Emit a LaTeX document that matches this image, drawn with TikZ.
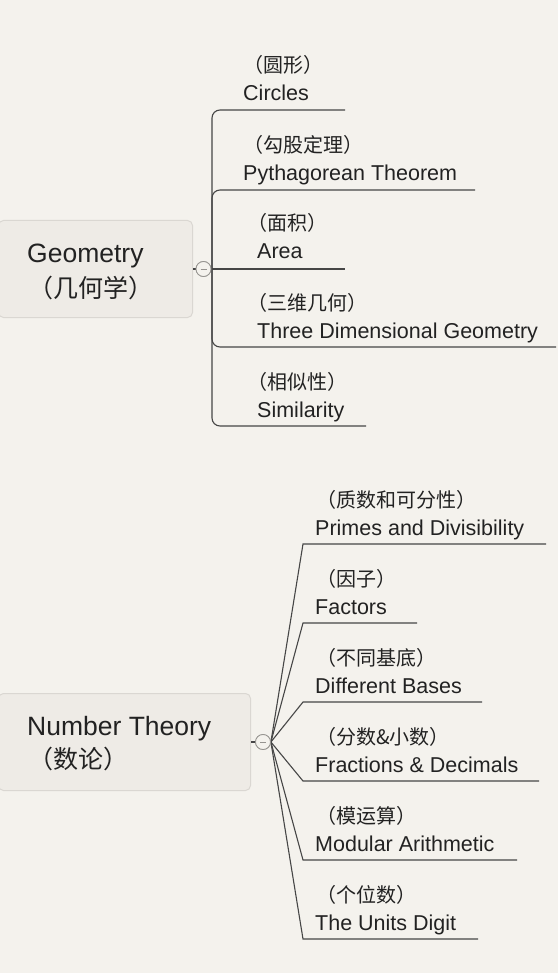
\documentclass[tikz,border=0pt]{standalone}
\usepackage{fontspec}
\setmainfont{Liberation Sans}
\newfontfamily\cjk{Noto Sans CJK SC}
\definecolor{bg}{RGB}{244,242,237}
\definecolor{boxfill}{RGB}{238,235,230}
\definecolor{boxline}{RGB}{218,215,210}
\definecolor{txt}{RGB}{34,34,34}
\definecolor{linec}{RGB}{70,70,70}
\definecolor{circc}{RGB}{150,148,144}
\begin{document}
\begin{tikzpicture}[x=1pt,y=-1pt,
  leafen/.style={anchor=base west, inner sep=0pt, text=txt, font=\fontsize{21.5}{24}\selectfont},
  leafcn/.style={anchor=base west, inner sep=0pt, text=txt, font=\cjk\fontsize{20}{24}\selectfont},
  topicen/.style={anchor=base west, inner sep=0pt, text=txt, font=\fontsize{26.5}{30}\selectfont},
  topiccn/.style={anchor=base west, inner sep=0pt, text=txt, font=\cjk\fontsize{25}{30}\selectfont},
  topicbox/.style={draw=boxline, fill=boxfill, line width=1pt, rounded corners=5pt, anchor=north west, inner sep=0pt},
  collapse/.style={circle, draw=circc, fill=bg, line width=0.8pt, minimum size=15pt, inner sep=0pt},
  conn/.style={draw=linec, line width=1.1pt},
  tick/.style={draw=circc, line width=0.6pt}]
\fill[bg] (0,0) rectangle (558,973);
\useasboundingbox (0,0) rectangle (558,973);

% ---------------- Geometry ----------------
\node[topicbox, minimum width=194pt, minimum height=97pt] (geo) at (-2,220) {};
\node[topicen] (geoen) at (27,262) {Geometry};
\node[topiccn] (geocn) at (28,297) {（几何学）};
\node[collapse] (gc) at (203.5,269) {};
\coordinate (gsp) at (212,269);

\coordinate (g1e) at (345,110);
\coordinate (g2e) at (475,190);
\coordinate (g3e) at (345,269);
\coordinate (g4e) at (556,347);
\coordinate (g5e) at (366,426);

\draw[conn, rounded corners=8pt] (gsp) |- (g1e);
\draw[conn, rounded corners=8pt] (gsp) |- (g2e);
\draw[conn] (gc.east) -- (g3e);
\draw[conn, rounded corners=8pt] (gsp) |- (g4e);
\draw[conn, rounded corners=8pt] (gsp) |- (g5e);
\draw[conn] (geo.east) -- (gc.west);
\node[collapse] at (gc) {};
\draw[tick] ([xshift=-3pt]gc.center) -- ([xshift=3pt]gc.center);

\node[leafcn] (g1c) at (243,73) {（圆形）};
\node[leafen] (g1t) at (243,101) {Circles};
\node[leafcn] (g2c) at (243,153) {（勾股定理）};
\node[leafen] (g2t) at (243,181) {Pythagorean Theorem};
\node[leafcn] (g3c) at (247,231) {（面积）};
\node[leafen] (g3t) at (257,259) {Area};
\node[leafcn] (g4c) at (247,310) {（三维几何）};
\node[leafen] (g4t) at (257,338) {Three Dimensional Geometry};
\node[leafcn] (g5c) at (247,389) {（相似性）};
\node[leafen] (g5t) at (257,417) {Similarity};

% ---------------- Number Theory ----------------
\node[topicbox, minimum width=252pt, minimum height=97pt] (nt) at (-2,693) {};
\node[topicen] (nten) at (27,735) {Number Theory};
\node[topiccn] (ntcn) at (28,768) {（数论）};
\node[collapse] (nc) at (263,742) {};

\coordinate (n1s) at (303,544); \coordinate (n1e) at (546,544);
\coordinate (n2s) at (303,623); \coordinate (n2e) at (417,623);
\coordinate (n3s) at (303,702); \coordinate (n3e) at (482,702);
\coordinate (n4s) at (303,781); \coordinate (n4e) at (539,781);
\coordinate (n5s) at (303,860); \coordinate (n5e) at (517,860);
\coordinate (n6s) at (303,939); \coordinate (n6e) at (478,939);

\foreach \i in {1,...,6}{
  \draw[conn] (nc.east) -- (n\i s) -- (n\i e);
}
\draw[conn] (nt.east) -- (nc.west);
\node[collapse] at (nc) {};
\draw[tick] ([xshift=-3pt]nc.center) -- ([xshift=3pt]nc.center);

\node[leafcn] (n1c) at (316,507) {（质数和可分性）};
\node[leafen] (n1t) at (315,535) {Primes and Divisibility};
\node[leafcn] (n2c) at (316,586) {（因子）};
\node[leafen] (n2t) at (315,614) {Factors};
\node[leafcn] (n3c) at (316,665) {（不同基底）};
\node[leafen] (n3t) at (315,693) {Different Bases};
\node[leafcn] (n4c) at (316,744) {（分数\&小数）};
\node[leafen] (n4t) at (315,772) {Fractions \& Decimals};
\node[leafcn] (n5c) at (316,823) {（模运算）};
\node[leafen] (n5t) at (315,851) {Modular Arithmetic};
\node[leafcn] (n6c) at (316,902) {（个位数）};
\node[leafen] (n6t) at (315,930) {The Units Digit};
\end{tikzpicture}
\end{document}
